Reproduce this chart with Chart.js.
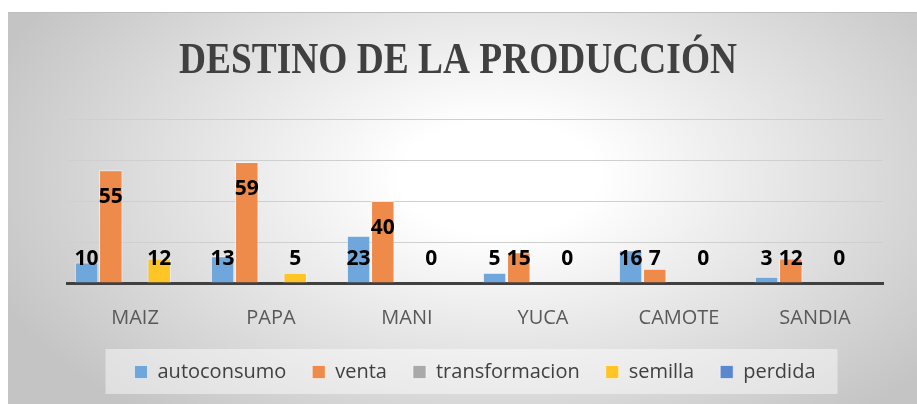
<!DOCTYPE html>
<html>
<head>
<meta charset="utf-8">
<script src="https://cdn.jsdelivr.net/npm/chart.js@4/dist/chart.umd.min.js"></script>
<style>
  html, body { margin: 0; padding: 0; background: #fff; }
  #wrap {
    position: absolute; left: 8px; top: 12px; width: 909px; height: 392px;
    border-top: 1px solid #bdbdbd; box-sizing: border-box;
    background: radial-gradient(ellipse 60% 80% at 54% 42%, #ffffff 18%, #c4c4c4 100%);
  }
</style>
</head>
<body>
<div id="wrap"><canvas id="myChart" width="909" height="391"></canvas></div>
<script>
const titulo = 'DESTINO DE LA PRODUCCIÓN';
const cultivos = ['MAIZ', 'PAPA', 'MANI', 'YUCA', 'CAMOTE', 'SANDIA'];
const autoconsumo = [10, 13, 23, 5, 16, 3];
const venta = [55, 59, 40, 15, 7, 12];
const transformacion = [null, null, null, null, null, null];
const semilla = [12, 5, 0, 0, 0, 0];
const perdida = [null, null, null, null, null, null];
const yTicks = [0, 20, 40, 60, 80];

// titulo estrecho y alto, como en el original
const condensedTitle = {
	id: 'condensedTitle',
	afterDraw(chart) {
		const ctx = chart.ctx;
		ctx.save();
		ctx.translate(450, 60);
		ctx.scale(0.85, 1);
		ctx.font = 'bold 44px "Liberation Serif"';
		ctx.fillStyle = '#404040';
		ctx.textAlign = 'center';
		ctx.textBaseline = 'alphabetic';
		ctx.fillText(titulo, 0, 0);
		ctx.restore();
	}
};

// etiquetas de datos dentro del extremo de la barra (como Excel)
const valueLabels = {
	id: 'valueLabels',
	afterDatasetsDraw(chart) {
		const ctx = chart.ctx;
		const bottom = chart.chartArea.bottom;
		ctx.save();
		ctx.font = 'bold 21px "Open Sans"';
		ctx.fillStyle = '#000';
		ctx.textAlign = 'center';
		ctx.textBaseline = 'middle';
		chart.data.datasets.forEach((ds, i) => {
			chart.getDatasetMeta(i).data.forEach((bar, j) => {
				const v = ds.data[j];
				if (v == null) return;
				const y = Math.min(bar.y + 27, bottom - 24);
				ctx.fillText(v, bar.x, y);
			});
		});
		ctx.restore();
	}
};

// caja clara detras de la leyenda
const legendBox = {
	id: 'legendBox',
	beforeDraw(chart) {
		const lg = chart.legend;
		if (!lg || !lg.legendHitBoxes.length) return;
		const hb = lg.legendHitBoxes;
		const left = hb[0].left - 29;
		const right = hb[hb.length - 1].left + hb[hb.length - 1].width + 22;
		const cy = hb[0].top + hb[0].height / 2;
		const ctx = chart.ctx;
		ctx.save();
		ctx.fillStyle = 'rgba(255,255,255,0.45)';
		ctx.fillRect(left, cy - 23, right - left, 45);
		ctx.restore();
	}
};

let ctx = document.getElementById('myChart');

let chart = new Chart(ctx, {
	type: 'bar',
	data: {
		labels: cultivos,
		datasets: [
			{ label: 'autoconsumo', data: autoconsumo, backgroundColor: '#6fa6dc' },
			{ label: 'venta', data: venta, backgroundColor: '#ee8a4a' },
			{ label: 'transformacion', data: transformacion, backgroundColor: '#a9a9a9' },
			{ label: 'semilla', data: semilla, backgroundColor: '#ffc526' },
			{ label: 'perdida', data: perdida, backgroundColor: '#5b87cf' }
		].map(d => Object.assign(d, {
			borderColor: 'rgba(255,255,255,0.55)',
			borderWidth: 1,
			categoryPercentage: 0.89,
			barPercentage: 0.97
		}))
	},
	options: {
		responsive: false,
		animation: false,
		layout: { padding: { left: 59, right: 34, top: 106, bottom: 12 } },
		plugins: {
			title: { display: false },
			legend: {
				position: 'bottom',
				labels: {
					color: '#404040',
					font: { family: '"Open Sans"', size: 20 },
					boxWidth: 13,
					boxHeight: 13,
					padding: 26
				}
			},
			tooltip: { enabled: false }
		},
		scales: {
			x: {
				grid: { display: false },
				border: { display: true, color: '#404040', width: 3 },
				ticks: {
					color: '#595959',
					font: { family: '"Open Sans"', size: 20 },
					padding: 15
				},
				afterFit(scale) { scale.height = 53; }
			},
			y: {
				min: yTicks[0],
				max: yTicks[yTicks.length - 1],
				afterBuildTicks(scale) { scale.ticks = yTicks.map(v => ({ value: v })); },
				ticks: { display: false },
				grid: { color: '#cfcfcf', lineWidth: 1, drawTicks: false },
				border: { display: false }
			}
		}
	},
	plugins: [legendBox, valueLabels, condensedTitle]
});
</script>
</body>
</html>
